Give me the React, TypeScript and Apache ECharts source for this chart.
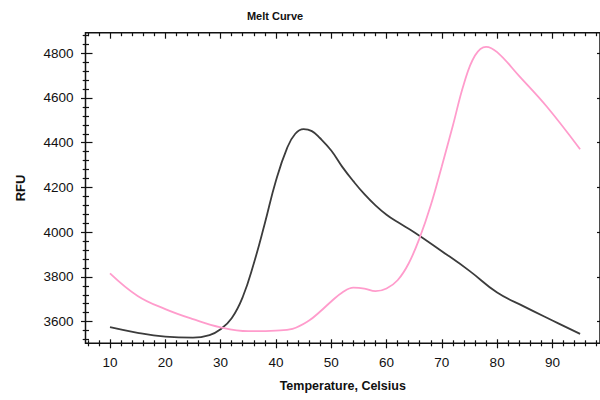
import React, { useEffect, useRef } from "react";
import * as echarts from "echarts";

const X_MIN = 5.57;
const X_MAX = 98.6;
const Y_MIN = 3503;
const Y_MAX = 4892;

const X_MAJOR = [10, 20, 30, 40, 50, 60, 70, 80, 90];
const X_MINOR = [6, 8, 12, 14, 16, 18, 22, 24, 26, 28, 32, 34, 36, 38, 42, 44, 46, 48, 52, 54, 56, 58, 62, 64, 66, 68, 72, 74, 76, 78, 82, 84, 86, 88, 92, 94, 96, 98];
const Y_MAJOR = [3600, 3800, 4000, 4200, 4400, 4600, 4800];
const Y_MINOR = [3520, 3560, 3640, 3680, 3720, 3760, 3840, 3880, 3920, 3960, 4040, 4080, 4120, 4160, 4240, 4280, 4320, 4360, 4440, 4480, 4520, 4560, 4640, 4680, 4720, 4760, 4840, 4880];

const BLACK_T = [10, 15, 20, 25, 28, 30, 32, 34, 36, 38, 40, 42, 43.5, 45, 46.5, 48, 50, 52, 54, 56, 58, 60, 62, 65, 70, 75, 80, 85, 90, 95];
const BLACK_V = [3575, 3550, 3533, 3528, 3540, 3566, 3615, 3710, 3860, 4040, 4230, 4375, 4440, 4461, 4452, 4420, 4365, 4292, 4228, 4170, 4120, 4078, 4045, 4000, 3915, 3827, 3730, 3666, 3605, 3545];

const PINK_T = [10, 15, 20, 25, 30, 35, 40, 43, 46, 48, 50, 52, 54, 56, 58, 60, 62, 64, 66, 68, 70, 72, 74, 76, 78, 80, 84, 89, 95];
const PINK_V = [3816, 3715, 3656, 3611, 3574, 3557, 3560, 3568, 3605, 3645, 3690, 3730, 3752, 3748, 3736, 3748, 3785, 3860, 3975, 4120, 4295, 4477, 4664, 4790, 4829, 4805, 4698, 4561, 4371];

const FONT = "'Liberation Sans', Arial, sans-serif";
const INK = "#111";

export default function App() {
  const ref = useRef<HTMLDivElement>(null);
  useEffect(() => {
    if (!ref.current) return;
    const chart = echarts.init(ref.current, null, { renderer: "svg" });
    const gridBox = { left: 85.5, top: 32.7, right: 0, bottom: 56.7 };
    const tickStyle = { color: INK, width: 1.2 };
    const hidden = { show: false };
    const plain = (v: number) => String(v);
    const baseX = { type: "value", min: X_MIN, max: X_MAX, splitLine: hidden, axisLine: hidden };
    const baseY = { type: "value", min: Y_MIN, max: Y_MAX, splitLine: hidden, axisLine: hidden };
    chart.setOption({
      animation: false,
      graphic: [
        {
          type: "text",
          x: 275,
          y: 16,
          style: { text: "Melt Curve", align: "center", verticalAlign: "middle", font: `bold 11px ${FONT}`, fill: INK },
        },
      ],
      grid: [
        { ...gridBox, show: true, borderColor: INK, borderWidth: 1.5, backgroundColor: "transparent" },
        { ...gridBox },
      ],
      xAxis: [
        {
          ...baseX,
          gridIndex: 0,
          position: "bottom",
          offset: -4,
          axisTick: { show: true, inside: false, length: 9, customValues: X_MAJOR, lineStyle: tickStyle },
          axisLabel: { show: true, customValues: X_MAJOR, margin: 16, fontSize: 13.5, color: INK, fontFamily: FONT, formatter: plain },
          name: "Temperature, Celsius",
          nameLocation: "middle",
          nameGap: 40,
          nameTextStyle: { fontSize: 12.5, fontWeight: "bold", color: INK, fontFamily: FONT },
        },
        {
          ...baseX,
          gridIndex: 0,
          position: "top",
          axisTick: { show: true, inside: true, length: 6, customValues: X_MAJOR, lineStyle: tickStyle },
          axisLabel: hidden,
        },
        {
          ...baseX,
          gridIndex: 1,
          position: "bottom",
          offset: -3,
          axisTick: { show: true, inside: false, length: 6, customValues: X_MINOR, lineStyle: tickStyle },
          axisLabel: hidden,
        },
        {
          ...baseX,
          gridIndex: 1,
          position: "top",
          axisTick: { show: true, inside: true, length: 3.5, customValues: X_MINOR, lineStyle: tickStyle },
          axisLabel: hidden,
        },
      ],
      yAxis: [
        {
          ...baseY,
          gridIndex: 0,
          position: "left",
          offset: -7,
          axisTick: { show: true, inside: false, length: 11.5, customValues: Y_MAJOR, lineStyle: tickStyle },
          axisLabel: { show: true, customValues: Y_MAJOR, margin: 19, fontSize: 13.5, color: INK, fontFamily: FONT, formatter: plain },
          name: "RFU",
          nameLocation: "middle",
          nameGap: 66,
          nameTextStyle: { fontSize: 13, fontWeight: "bold", color: INK, fontFamily: FONT },
        },
        {
          ...baseY,
          gridIndex: 0,
          position: "right",
          axisTick: { show: true, inside: true, length: 3, customValues: Y_MAJOR, lineStyle: tickStyle },
          axisLabel: hidden,
        },
        {
          ...baseY,
          gridIndex: 1,
          position: "left",
          offset: -3.5,
          axisTick: { show: true, inside: false, length: 6.3, customValues: Y_MINOR, lineStyle: tickStyle },
          axisLabel: hidden,
        },
      ],
      series: [
        {
          name: "Sample A",
          type: "line",
          xAxisIndex: 0,
          yAxisIndex: 0,
          data: BLACK_T.map((t, i) => [t, BLACK_V[i]]),
          smooth: 0.45,
          showSymbol: false,
          lineStyle: { color: "#3c3c3c", width: 1.8 },
        },
        {
          name: "Sample B",
          type: "line",
          xAxisIndex: 0,
          yAxisIndex: 0,
          data: PINK_T.map((t, i) => [t, PINK_V[i]]),
          smooth: 0.4,
          showSymbol: false,
          lineStyle: { color: "#ff9ccc", width: 1.8 },
        },
      ],
    });
    return () => chart.dispose();
  }, []);
  return (
    <div
      ref={ref}
      style={{ position: "fixed", left: 0, top: 0, width: 600, height: 400, background: "#fff" }}
    />
  );
}
